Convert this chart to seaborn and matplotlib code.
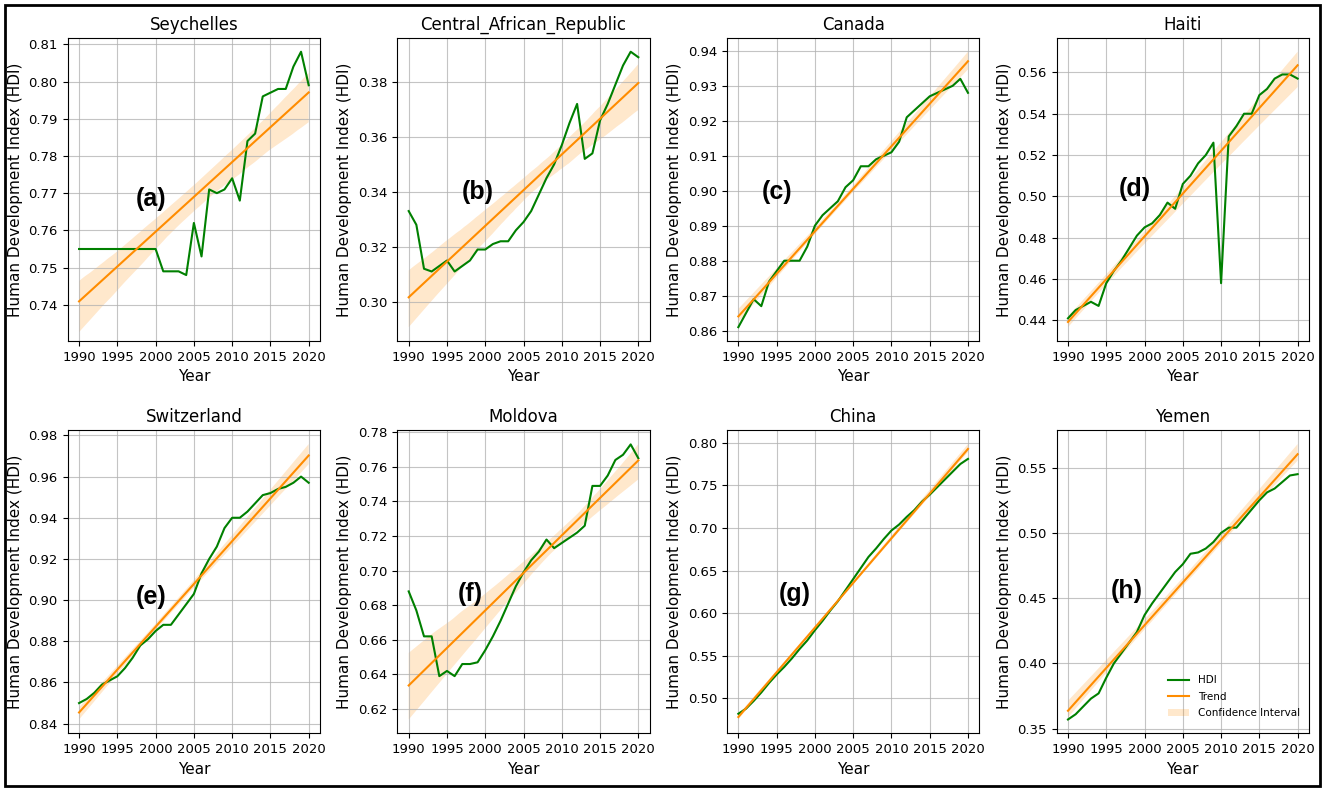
import pandas as pd
import seaborn as sns
from matplotlib import pyplot as plt
from matplotlib.lines import Line2D
from matplotlib.patches import Patch, Rectangle

years = list(range(1990, 2021))

seychelles = [0.755, 0.755, 0.755, 0.755, 0.755, 0.755, 0.755, 0.755, 0.755, 0.755,
              0.755, 0.749, 0.749, 0.749, 0.748, 0.762, 0.753, 0.771, 0.770, 0.771,
              0.774, 0.768, 0.784, 0.786, 0.796, 0.797, 0.798, 0.798, 0.804, 0.808,
              0.799]
car = [0.333, 0.328, 0.312, 0.311, 0.313, 0.315, 0.311, 0.313, 0.315, 0.319,
       0.319, 0.321, 0.322, 0.322, 0.326, 0.329, 0.333, 0.339, 0.345, 0.350,
       0.357, 0.365, 0.372, 0.352, 0.354, 0.366, 0.372, 0.379, 0.386, 0.391,
       0.389]
canada = [0.861, 0.865, 0.869, 0.867, 0.874, 0.877, 0.880, 0.880, 0.880, 0.884,
          0.890, 0.893, 0.895, 0.897, 0.901, 0.903, 0.907, 0.907, 0.909, 0.910,
          0.911, 0.914, 0.921, 0.923, 0.925, 0.927, 0.928, 0.929, 0.930, 0.932,
          0.928]
haiti = [0.441, 0.445, 0.447, 0.449, 0.447, 0.458, 0.464, 0.469, 0.475, 0.481,
         0.485, 0.487, 0.491, 0.497, 0.494, 0.506, 0.510, 0.516, 0.520, 0.526,
         0.458, 0.529, 0.534, 0.540, 0.540, 0.549, 0.552, 0.557, 0.559, 0.559,
         0.557]
switzerland = [0.850, 0.852, 0.855, 0.859, 0.861, 0.863, 0.867, 0.872, 0.878, 0.881,
               0.885, 0.888, 0.888, 0.893, 0.898, 0.903, 0.913, 0.920, 0.926, 0.935,
               0.940, 0.940, 0.943, 0.947, 0.951, 0.952, 0.954, 0.955, 0.957, 0.960,
               0.957]
moldova = [0.688, 0.677, 0.662, 0.662, 0.639, 0.642, 0.639, 0.646, 0.646, 0.647,
           0.654, 0.662, 0.671, 0.681, 0.691, 0.699, 0.706, 0.711, 0.718, 0.713,
           0.716, 0.719, 0.722, 0.726, 0.749, 0.749, 0.755, 0.764, 0.767, 0.773,
           0.765]
china = [0.482, 0.488, 0.497, 0.507, 0.518, 0.528, 0.537, 0.547, 0.558, 0.568,
         0.580, 0.591, 0.603, 0.614, 0.627, 0.640, 0.653, 0.666, 0.676, 0.687,
         0.697, 0.704, 0.713, 0.721, 0.731, 0.739, 0.748, 0.757, 0.766, 0.775,
         0.781]
yemen = [0.357, 0.361, 0.367, 0.373, 0.377, 0.389, 0.400, 0.408, 0.416, 0.424,
         0.437, 0.446, 0.454, 0.462, 0.470, 0.476, 0.484, 0.485, 0.488, 0.493,
         0.500, 0.504, 0.504, 0.511, 0.518, 0.525, 0.531, 0.534, 0.539, 0.544,
         0.545]

countries = ["Seychelles", "Central_African_Republic", "Canada", "Haiti",
             "Switzerland", "Moldova", "China", "Yemen"]
panel_labels = ["(a)", "(b)", "(c)", "(d)", "(e)", "(f)", "(g)", "(h)"]
label_pos = [(0.33, 0.47), (0.32, 0.49), (0.20, 0.49), (0.31, 0.50),
             (0.33, 0.45), (0.29, 0.46), (0.27, 0.46), (0.28, 0.47)]

df = pd.DataFrame({"Year": years, "Seychelles": seychelles,
                   "Central_African_Republic": car, "Canada": canada,
                   "Haiti": haiti, "Switzerland": switzerland,
                   "Moldova": moldova, "China": china, "Yemen": yemen})

fig, axes = plt.subplots(2, 4, figsize=(13.25, 7.91), dpi=100)
fig.subplots_adjust(left=0.051, right=0.988, top=0.952, bottom=0.073,
                    wspace=0.305, hspace=0.295)

for ax, country, lab, pos in zip(axes.flat, countries, panel_labels, label_pos):
    sns.lineplot(data=df, x="Year", y=country, color="green", lw=1.5, ax=ax)
    sns.regplot(data=df, x="Year", y=country, scatter=False, ci=95,
                color="darkorange", seed=0, ax=ax, line_kws={"lw": 1.5})
    ax.collections[-1].set_alpha(0.2)
    ax.set_title(country, fontsize=12)
    ax.set_xlabel("Year", fontsize=11)
    ax.set_ylabel("Human Development Index (HDI)", fontsize=11)
    ax.set_xticks(range(1990, 2021, 5))
    ax.tick_params(labelsize=9.5)
    ax.grid(True, color="#b0b0b0", alpha=0.75)
    ax.text(pos[0], pos[1], lab, transform=ax.transAxes, ha="center",
            va="center", fontsize=18, fontweight="bold",
            family="Liberation Sans")

# seychelles axis starts just above 0.73 in the original
axes[0, 0].set_ylim(0.7303, 0.8117)

handles = [Line2D([], [], color="green", lw=1.5),
           Line2D([], [], color="darkorange", lw=1.5),
           Patch(facecolor="darkorange", alpha=0.2)]
axes[1, 3].legend(handles, ["HDI", "Trend", "Confidence Interval"],
                  loc="lower right", fontsize=7.5, frameon=False,
                  labelspacing=0.6, bbox_to_anchor=(1.0, 0.02))

fig.patches.append(Rectangle((0.004, 0.006), 0.992, 0.988, transform=fig.transFigure,
                             fill=False, edgecolor="black", lw=2))

plt.savefig("out.png")
